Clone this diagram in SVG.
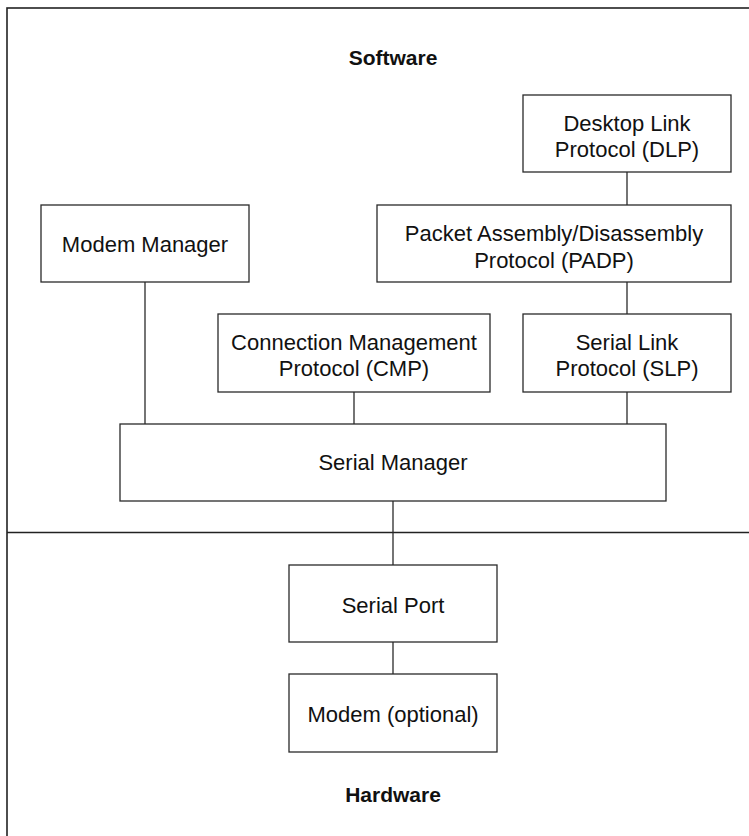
<svg xmlns="http://www.w3.org/2000/svg" width="749" height="836" viewBox="0 0 749 836">
  <style>
    .frame { fill: none; stroke: #222; stroke-width: 1.6; }
    .box { fill: #fff; stroke: #2a2a2a; stroke-width: 1.3; }
    .conn { stroke: #2a2a2a; stroke-width: 1.3; fill: none; }
    .lbl { font-family: "Liberation Sans", Arial, sans-serif; font-size: 22px; fill: #111; text-anchor: middle; }
    .title { font-family: "Liberation Sans", Arial, sans-serif; font-size: 21px; font-weight: bold; fill: #111; text-anchor: middle; }
  </style>
  <rect width="749" height="836" fill="#fff"/>
  <g id="frame">
    <rect class="frame" x="7" y="8" width="800" height="900"/>
    <line class="frame" x1="7" y1="532.5" x2="749" y2="532.5" stroke-width="1.3"/>
    <text class="title" x="393" y="65">Software</text>
    <text class="title" x="393" y="802">Hardware</text>
  </g>
  <g id="connectors">
    <line class="conn" x1="627" y1="172" x2="627" y2="205"/>
    <line class="conn" x1="627" y1="282" x2="627" y2="314"/>
    <line class="conn" x1="627" y1="392" x2="627" y2="424"/>
    <line class="conn" x1="145" y1="282" x2="145" y2="424"/>
    <line class="conn" x1="354" y1="392" x2="354" y2="424"/>
    <line class="conn" x1="393" y1="501" x2="393" y2="565"/>
    <line class="conn" x1="393" y1="642" x2="393" y2="674"/>
  </g>
  <g id="dlp">
    <rect class="box" x="523" y="95" width="208" height="77"/>
    <text class="lbl" x="627" y="130.5">Desktop Link</text>
    <text class="lbl" x="627" y="157">Protocol (DLP)</text>
  </g>
  <g id="padp">
    <rect class="box" x="377" y="205" width="354" height="77"/>
    <text class="lbl" x="554" y="241">Packet Assembly/Disassembly</text>
    <text class="lbl" x="554" y="267.5">Protocol (PADP)</text>
  </g>
  <g id="modem-manager">
    <rect class="box" x="41" y="205" width="208" height="77"/>
    <text class="lbl" x="145" y="252">Modem Manager</text>
  </g>
  <g id="cmp">
    <rect class="box" x="218" y="314" width="272" height="78"/>
    <text class="lbl" x="354" y="349.5">Connection Management</text>
    <text class="lbl" x="354" y="376">Protocol (CMP)</text>
  </g>
  <g id="slp">
    <rect class="box" x="523" y="314" width="208" height="78"/>
    <text class="lbl" x="627" y="349.5">Serial Link</text>
    <text class="lbl" x="627" y="376">Protocol (SLP)</text>
  </g>
  <g id="serial-manager">
    <rect class="box" x="120" y="424" width="546" height="77"/>
    <text class="lbl" x="393" y="469.5">Serial Manager</text>
  </g>
  <g id="serial-port">
    <rect class="box" x="289" y="565" width="208" height="77"/>
    <text class="lbl" x="393" y="612.5">Serial Port</text>
  </g>
  <g id="modem">
    <rect class="box" x="289" y="674" width="208" height="78"/>
    <text class="lbl" x="393" y="721.5">Modem (optional)</text>
  </g>
</svg>
